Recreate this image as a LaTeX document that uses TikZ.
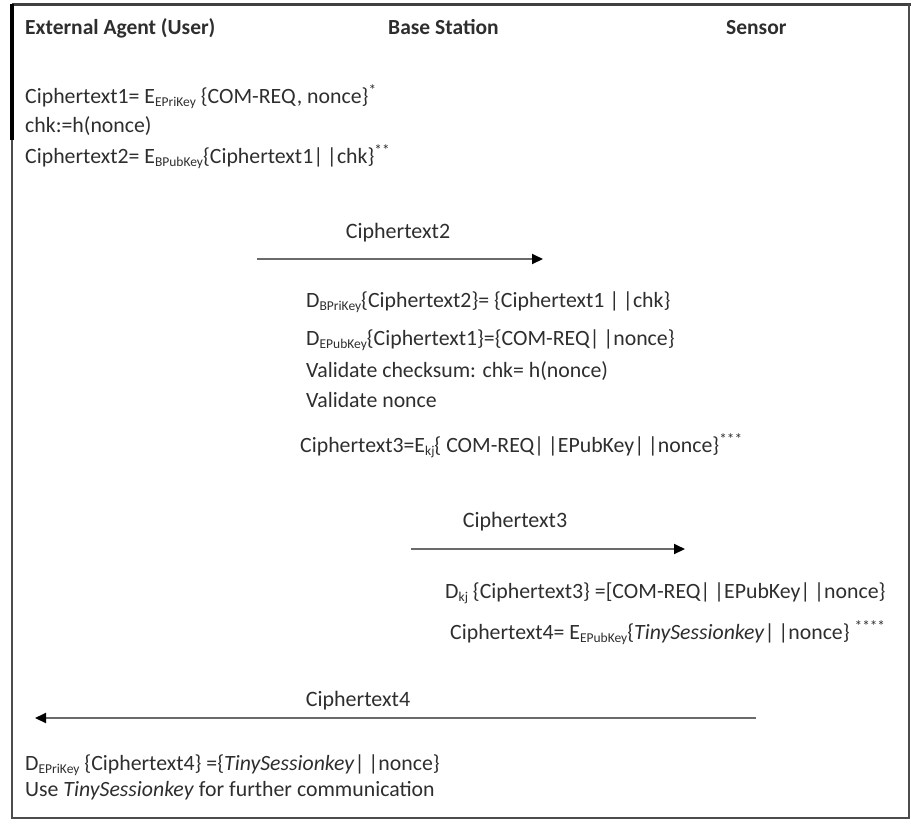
\documentclass[tikz,border=0pt]{standalone}
\usepackage{fontspec}
\setmainfont{Carlito}
\usetikzlibrary{arrows.meta}
\definecolor{txt}{HTML}{2E2E2E}
\definecolor{arr}{HTML}{6A6A6A}
\newcommand{\subk}[1]{\raisebox{-0.35ex}{\fontsize{13.5}{13.5}\selectfont #1}}
\newcommand{\pp}{|\,|}
\begin{document}
\begin{tikzpicture}[x=1pt,y=-1pt,
  hd/.style={anchor=base west,inner sep=0pt,font=\fontsize{21.5}{24}\selectfont\bfseries,text=txt},
  tx/.style={anchor=base west,inner sep=0pt,font=\fontsize{21.8}{24}\selectfont,text=txt},
  lbl/.style={anchor=base,inner sep=0pt,font=\fontsize{22}{24}\selectfont,text=txt},
  msg/.style={draw=arr,line width=2pt,-{Triangle[length=11pt,width=10pt,fill=black,color=black]}}]
\useasboundingbox (0,0) rectangle (911,823);
% frame
\draw[black!75,line width=3pt] (12,4) -- (911,4);
\draw[black!70,line width=2pt] (12,4) -- (12,818) -- (909,818) -- (909,4);
\draw[black,line width=3.5pt] (12,4) -- (12,140);
% headers
\node[hd] (hA) at (25,34) {External Agent (User)};
\node[hd] (hB) at (388,34) {Base Station};
\node[hd] (hC) at (726,34) {Sensor};
% user side
\node[tx] (u1) at (25,103) {Ciphertext1= E\subk{EPriKey} \{COM-REQ, nonce\}\textsuperscript{*}};
\node[tx] (u2) at (25,132) {chk:=h(nonce)};
\node[tx] (u3) at (25,163) {Ciphertext2= E\subk{BPubKey}\{Ciphertext1\pp chk\}\textsuperscript{**}};
% message 1
\coordinate (m1s) at (257,259);
\coordinate (m1e) at (543,259);
\draw[msg] (m1s) -- (m1e);
\node[lbl] (l1) at (398,238) {Ciphertext2};
% base station
\node[tx] (b1) at (306,307) {D\subk{BPriKey}\{Ciphertext2\}= \{Ciphertext1 \pp chk\}};
\node[tx] (b2) at (306,345) {D\subk{EPubKey}\{Ciphertext1\}=\{COM-REQ\pp nonce\}};
\node[tx] (b3) at (306,377) {Validate checksum: chk= h(nonce)};
\node[tx] (b4) at (306,407) {Validate nonce};
\node[tx] (b5) at (300,452) {Ciphertext3=E\subk{kj}\{ COM-REQ\pp EPubKey\pp nonce\}\textsuperscript{***}};
% message 2
\coordinate (m2s) at (411,549);
\coordinate (m2e) at (685,549);
\draw[msg] (m2s) -- (m2e);
\node[lbl] (l2) at (515,527) {Ciphertext3};
% sensor
\node[tx] (s1) at (445,598) {D\subk{kj} \{Ciphertext3\} =[COM-REQ\pp EPubKey\pp nonce\}};
\node[tx] (s2) at (450,639) {Ciphertext4= E\subk{EPubKey}\{\textit{TinySessionkey}\pp nonce\} \textsuperscript{****}};
% message 3
\coordinate (m3s) at (756,718);
\coordinate (m3e) at (35,718);
\draw[msg] (m3s) -- (m3e);
\node[lbl] (l3) at (358,706) {Ciphertext4};
% user final
\node[tx] (f1) at (25,770) {D\subk{EPriKey} \{Ciphertext4\} =\{\textit{TinySessionkey}\pp nonce\}};
\node[tx] (f2) at (25,796) {Use \textit{TinySessionkey} for further communication};
\end{tikzpicture}
\end{document}
